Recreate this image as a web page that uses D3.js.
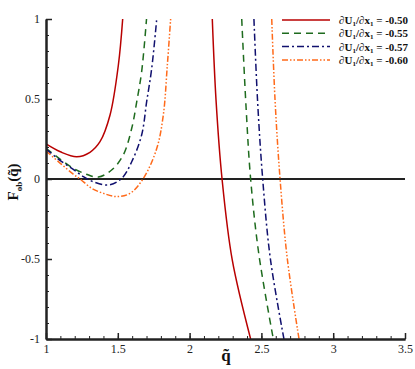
<!DOCTYPE html>
<html><head><meta charset="utf-8">
<script src="https://cdn.jsdelivr.net/npm/d3@7"></script>
<style>body{margin:0;background:#fff}svg{display:block}</style>
</head><body>
<script>
// ---- data ----
const seriesLabels = ["∂U1/∂x1 = -0.50","∂U1/∂x1 = -0.55","∂U1/∂x1 = -0.57","∂U1/∂x1 = -0.60"];
const redLeftX   = [1.0,1.1,1.214,1.306,1.376,1.446,1.504,1.534];
const redLeftY   = [0.219,0.17,0.139,0.167,0.233,0.40,0.7125,1.0];
const redRightX  = [2.158,2.184,2.226,2.297,2.425];
const redRightY  = [1,0.494,0,-0.506,-1];
const greenLeftX = [1.0,1.1,1.19,1.28,1.364,1.457,1.538,1.597,1.632,1.666,1.70];
const greenLeftY = [0.192,0.123,0.067,0.03,0.012,0.056,0.15,0.317,0.483,0.67,1.0];
const greenRightX= [2.363,2.393,2.425,2.483,2.583];
const greenRightY= [1,0.452,0,-0.475,-1];
const blueLeftX  = [1.0,1.1,1.19,1.26,1.33,1.434,1.527,1.597,1.666,1.701,1.736,1.771];
const blueLeftY  = [0.188,0.115,0.06,0.015,-0.017,-0.0375,0.004,0.108,0.275,0.483,0.69,1.0];
const blueRightX = [2.448,2.474,2.509,2.562,2.657];
const blueRightY = [1,0.477,0,-0.496,-1];
const orangeLeftX  = [1.0,1.1,1.19,1.237,1.318,1.40,1.492,1.585,1.678,1.771,1.817,1.845,1.868];
const orangeLeftY  = [0.175,0.098,0.03,0.0,-0.058,-0.09,-0.11,-0.09,0.004,0.19,0.40,0.7125,1.0];
const orangeRightX = [2.572,2.595,2.63,2.680,2.762];
const orangeRightY = [1,0.494,0,-0.496,-1];
const xTicks = [1,1.5,2,2.5,3,3.5];
const xTickLabels = ["1","1.5","2","2.5","3","3.5"];
const yTicks = [-1,-0.5,0,0.5,1];
const yTickLabels = ["-1","-0.5","0","0.5","1"];

// ---- chart ----
const W=415,H=369;
const svg=d3.select("body").append("svg").attr("width",W).attr("height",H);
const x=d3.scaleLinear().domain([1,3.5]).range([46,405]);
const y=d3.scaleLinear().domain([-1,1]).range([339,19]);
const font="'Liberation Serif','Times New Roman',serif";

svg.append("defs").append("clipPath").attr("id","clip")
  .append("rect").attr("x",46).attr("y",19).attr("width",359).attr("height",320);

const zip=(a,b)=>a.map((v,i)=>[v,b[i]]);
const series=[
  {color:"#b80000",dash:null,parts:[zip(redLeftX,redLeftY),zip(redRightX,redRightY)]},
  {color:"#1e6b1e",dash:"7,5",parts:[zip(greenLeftX,greenLeftY),zip(greenRightX,greenRightY)]},
  {color:"#10106e",dash:"7,3,2,3",parts:[zip(blueLeftX,blueLeftY),zip(blueRightX,blueRightY)]},
  {color:"#ff6a1a",dash:"6,2,1.5,2,1.5,2",parts:[zip(orangeLeftX,orangeLeftY),zip(orangeRightX,orangeRightY)]}
];
const line=d3.line().x(d=>x(d[0])).y(d=>y(d[1])).curve(d3.curveCatmullRom.alpha(0.5));

// zero line
svg.append("line").attr("x1",x(1)).attr("x2",x(3.5)).attr("y1",y(0)).attr("y2",y(0))
  .attr("stroke","#222").attr("stroke-width",2);

const g=svg.append("g").attr("clip-path","url(#clip)");
series.forEach(s=>{
  s.parts.forEach(p=>{
    g.append("path").attr("d",line(p)).attr("fill","none").attr("stroke",s.color)
      .attr("stroke-width",1.5).attr("stroke-dasharray",s.dash);
  });
});

// axes
const xMinor=d3.range(1,3.5001,0.1);
const yMinor=d3.range(-1,1.0001,0.1);
const xAxisMinor=d3.axisBottom(x).tickValues(xMinor).tickSize(-3).tickSizeOuter(0).tickFormat("");
const xAxis=d3.axisBottom(x).tickValues(xTicks).tickSize(-6).tickSizeOuter(0).tickPadding(5)
  .tickFormat((d,i)=>xTickLabels[i]);
const yAxisMinor=d3.axisLeft(y).tickValues(yMinor).tickSize(-3).tickSizeOuter(0).tickFormat("");
const yAxis=d3.axisLeft(y).tickValues(yTicks).tickSize(-6).tickSizeOuter(0).tickPadding(6)
  .tickFormat((d,i)=>yTickLabels[i]);

function style(sel){
  sel.select(".domain").attr("stroke","#222").attr("stroke-width",2);
  sel.selectAll(".tick line").attr("stroke","#222").attr("stroke-width",1);
  sel.selectAll("text").attr("font-family",font).attr("font-size",12).attr("fill","#222");
}
svg.append("g").attr("transform","translate(0,339)").call(xAxisMinor).call(style);
svg.append("g").attr("transform","translate(0,339)").call(xAxis).call(style)
  .selectAll(".tick line").attr("stroke-width",1.5);
svg.append("g").attr("transform","translate(46,0)").call(yAxisMinor).call(style);
svg.append("g").attr("transform","translate(46,0)").call(yAxis).call(style)
  .selectAll(".tick line").attr("stroke-width",1.5);

// axis labels
svg.append("text").attr("x",226).attr("y",361).attr("text-anchor","middle")
  .attr("font-family",font).attr("font-weight","bold").attr("font-size",17).attr("fill","#111")
  .text("q\u0303");
const yl=svg.append("text").attr("transform","translate(18,182) rotate(-90)").attr("text-anchor","middle")
  .attr("font-family",font).attr("font-weight","bold").attr("font-size",15).attr("fill","#111");
yl.append("tspan").text("F");
yl.append("tspan").attr("font-size",9).attr("dy",4).text("ob");
yl.append("tspan").attr("dy",-4).text("(q\u0303)");

// legend
const lg=svg.append("g");
series.forEach((s,i)=>{
  const yy=20+i*13.3;
  lg.append("line").attr("x1",282).attr("x2",330).attr("y1",yy).attr("y2",yy)
    .attr("stroke",s.color).attr("stroke-width",1.5).attr("stroke-dasharray",s.dash);
  const t=lg.append("text").attr("x",339).attr("y",yy+4).attr("font-family",font)
    .attr("font-weight","bold").attr("font-size",11).attr("fill","#111");
  t.append("tspan").text("∂U");
  t.append("tspan").attr("font-size",7).attr("dy",2).text("1");
  t.append("tspan").attr("dy",-2).text("/∂x");
  t.append("tspan").attr("font-size",7).attr("dy",2).text("1");
  t.append("tspan").attr("dy",-2).text(" = " + seriesLabels[i].split("= ")[1]);
});
</script>
</body></html>
